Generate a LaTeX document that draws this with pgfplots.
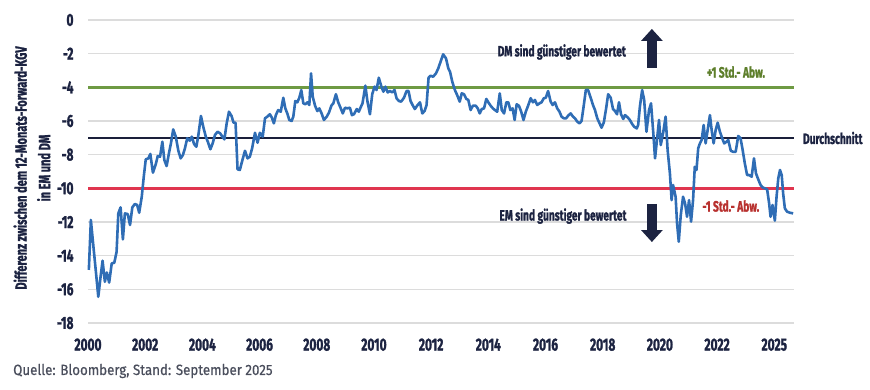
\documentclass[border=0pt]{standalone}
\usepackage{fontspec}
\setmainfont{Fira Sans}[FakeStretch=0.68, BoldFeatures={FakeBold=1.3}]
\newfontfamily\srcfont{Fira Sans}[FakeStretch=0.9, FakeBold=0.6]
\usepackage{pgfplots}
\usepackage{pgfplotstable}
\pgfplotsset{compat=1.18}
\usetikzlibrary{arrows.meta}
\definecolor{navy}{HTML}{1C2341}
\definecolor{lineblue}{HTML}{2F6DB5}
\definecolor{stdgreen}{HTML}{6E9A43}
\definecolor{stdred}{HTML}{E0354F}
\definecolor{txtgreen}{HTML}{5E7F2C}
\definecolor{txtred}{HTML}{B8312F}
\definecolor{meanline}{HTML}{1A1F3A}
\definecolor{gridgray}{HTML}{DCDCDC}
\definecolor{srcgray}{HTML}{4A4E5C}

% x = years since 2000 (axis positions), y = difference in forward P/E
\pgfplotstableread{
x y
0.03 -14.85
0.10 -11.88
0.19 -13.47
0.27 -14.85
0.36 -16.44
0.44 -15.25
0.51 -14.30
0.59 -15.55
0.66 -15.00
0.74 -15.60
0.83 -14.46
0.92 -14.42
1.00 -13.77
1.06 -11.49
1.14 -11.13
1.22 -13.03
1.29 -11.49
1.39 -11.53
1.47 -12.18
1.55 -11.13
1.64 -10.93
1.72 -10.99
1.79 -11.45
1.88 -10.50
1.95 -9.31
2.02 -8.28
2.11 -8.22
2.18 -7.96
2.27 -9.07
2.37 -8.56
2.44 -8.08
2.52 -8.12
2.60 -7.23
2.67 -8.32
2.75 -8.68
2.83 -7.92
2.90 -7.33
2.98 -6.50
3.07 -6.93
3.16 -7.77
3.24 -8.22
3.32 -8.02
3.39 -7.62
3.47 -7.03
3.56 -7.17
3.63 -6.93
3.71 -7.37
3.79 -7.53
3.86 -6.83
3.95 -5.70
4.03 -6.34
4.12 -6.93
4.19 -7.23
4.28 -7.68
4.36 -7.33
4.44 -6.83
4.53 -6.64
4.62 -6.73
4.70 -6.93
4.77 -7.09
4.85 -6.14
4.93 -5.45
5.02 -5.70
5.09 -6.10
5.16 -6.10
5.23 -8.87
5.31 -8.91
5.40 -8.32
5.49 -7.77
5.58 -8.22
5.66 -8.12
5.74 -7.62
5.84 -6.70
5.93 -7.29
6.01 -6.70
6.11 -6.93
6.19 -5.84
6.27 -5.74
6.36 -5.60
6.43 -5.80
6.50 -6.14
6.57 -5.65
6.65 -5.35
6.74 -5.45
6.83 -4.62
6.90 -5.25
6.97 -5.55
7.04 -5.94
7.12 -6.00
7.18 -5.74
7.25 -4.81
7.32 -4.89
7.39 -4.62
7.46 -4.16
7.53 -4.95
7.60 -5.01
7.67 -4.89
7.74 -5.05
7.80 -3.17
7.86 -4.56
7.94 -5.09
8.02 -5.41
8.09 -5.25
8.17 -5.55
8.25 -5.94
8.35 -5.74
8.43 -5.49
8.51 -5.09
8.58 -4.95
8.67 -4.41
8.75 -4.89
8.84 -5.25
8.91 -5.55
8.99 -5.21
9.07 -5.25
9.16 -5.21
9.23 -5.65
9.30 -5.60
9.40 -5.29
9.47 -5.45
9.53 -5.21
9.60 -4.95
9.70 -3.90
9.77 -4.81
9.86 -5.60
9.94 -4.41
10.02 -3.96
10.09 -4.16
10.17 -3.43
10.26 -3.96
10.33 -4.26
10.40 -3.96
10.48 -4.30
10.56 -4.22
10.64 -4.30
10.72 -4.16
10.79 -4.65
10.87 -4.81
10.95 -4.85
11.05 -4.62
11.14 -4.22
11.21 -4.22
11.28 -4.81
11.35 -5.05
11.43 -5.29
11.51 -5.09
11.61 -4.89
11.69 -5.55
11.77 -5.41
11.84 -5.05
11.91 -3.43
11.98 -3.31
12.07 -3.37
12.17 -3.17
12.25 -2.87
12.33 -2.48
12.42 -2.04
12.52 -2.28
12.60 -2.87
12.66 -3.07
12.74 -3.67
12.83 -4.16
12.91 -4.46
13.00 -4.85
13.07 -4.36
13.15 -4.41
13.23 -4.69
13.30 -4.75
13.38 -5.35
13.46 -5.09
13.56 -5.09
13.63 -5.25
13.70 -5.55
13.77 -5.29
13.85 -5.25
13.93 -4.69
14.00 -4.89
14.08 -5.09
14.16 -5.25
14.23 -5.35
14.31 -5.45
14.40 -4.36
14.47 -5.35
14.55 -5.55
14.63 -4.89
14.70 -4.89
14.77 -5.35
14.85 -5.25
14.92 -5.94
14.99 -5.01
15.07 -5.09
15.15 -5.45
15.23 -5.94
15.31 -5.45
15.40 -5.05
15.48 -4.65
15.56 -4.89
15.63 -4.75
15.71 -5.05
15.79 -4.95
15.86 -4.89
15.94 -4.65
16.01 -4.62
16.09 -4.22
16.18 -4.85
16.25 -5.05
16.33 -4.89
16.41 -5.25
16.49 -5.45
16.56 -5.74
16.64 -5.84
16.72 -5.84
16.81 -5.65
16.88 -5.55
16.96 -5.74
17.03 -5.84
17.11 -6.04
17.19 -6.14
17.26 -6.00
17.34 -5.05
17.41 -4.16
17.49 -4.16
17.58 -4.62
17.66 -5.05
17.73 -5.35
17.81 -5.84
17.89 -6.14
17.96 -6.40
18.04 -6.08
18.12 -5.25
18.19 -4.41
18.28 -4.62
18.36 -5.29
18.43 -5.41
18.50 -5.60
18.57 -4.89
18.64 -5.60
18.72 -5.88
18.78 -5.65
18.87 -5.78
18.95 -5.94
19.03 -6.18
19.10 -6.34
19.19 -6.44
19.24 -6.24
19.30 -5.15
19.38 -4.16
19.45 -4.75
19.53 -6.64
19.62 -5.35
19.69 -4.95
19.77 -6.73
19.83 -8.22
19.91 -6.93
19.97 -5.94
20.03 -7.43
20.12 -6.64
20.20 -5.74
20.27 -7.72
20.35 -9.11
20.41 -10.70
20.46 -9.80
20.55 -10.50
20.60 -12.08
20.66 -13.17
20.73 -11.59
20.81 -10.50
20.88 -10.89
20.95 -11.69
21.02 -10.70
21.09 -11.98
21.16 -10.70
21.22 -8.72
21.28 -8.91
21.34 -7.62
21.40 -7.33
21.46 -7.13
21.53 -6.24
21.60 -7.33
21.67 -6.54
21.75 -5.65
21.81 -6.54
21.88 -7.33
21.95 -6.54
22.02 -6.10
22.10 -6.64
22.18 -7.03
22.25 -7.33
22.33 -7.23
22.39 -7.13
22.48 -7.77
22.56 -7.83
22.65 -7.83
22.74 -6.89
22.82 -7.03
22.89 -7.68
22.97 -8.52
23.05 -9.21
23.12 -9.21
23.21 -9.31
23.29 -8.22
23.36 -9.11
23.44 -9.47
23.52 -9.80
23.59 -9.94
23.67 -10.00
23.75 -10.06
23.82 -10.89
23.87 -11.69
23.94 -10.99
24.02 -11.92
24.08 -10.50
24.14 -9.41
24.20 -8.91
24.26 -9.21
24.31 -10.30
24.37 -11.19
24.45 -11.39
24.55 -11.45
24.66 -11.49
}\spread

\begin{document}
\begin{tikzpicture}[x=1pt,y=1pt]
\useasboundingbox (0,0) rectangle (870,390);
\begin{axis}[
  at={(88pt,67pt)}, anchor=south west,
  scale only axis, width=706pt, height=303pt,
  xmin=0, xmax=24.69, ymin=-18, ymax=0,
  clip=false,
  axis line style={draw=none},
  tick style={draw=none},
  ymajorgrids, grid style={gridgray, line width=1.2pt},
  ytick={-18,-16,-14,-12,-10,-8,-6,-4,-2,0},
  yticklabels={-18,-16,-14,-12,-10,-8,-6,-4,-2,0},
  xtick={0,2,4,6,8,10,12,14,16,18,20,22,24},
  xticklabels={2000,2002,2004,2006,2008,2010,2012,2014,2016,2018,2020,2022,2025},
  yticklabel style={font=\bfseries\fontsize{17.5}{17.5}\selectfont, text=navy, anchor=east, xshift=-11pt},
  xticklabel style={font=\bfseries\fontsize{17.5}{17.5}\selectfont, text=navy, anchor=north, yshift=-12pt},
]
\addplot[stdgreen, line width=2.4pt] coordinates {(0,-4) (24.69,-4)};
\addplot[meanline, line width=2.4pt] coordinates {(0,-7) (24.69,-7)};
\addplot[stdred, line width=2.4pt] coordinates {(0,-10) (24.69,-10)};
\addplot[lineblue, line width=2.6pt, line join=round] table[x=x,y=y] {\spread};

\draw[-{Triangle[width=21pt,length=12pt]}, line width=10.5pt, navy]
  (axis cs:19.72,-2.85) -- (axis cs:19.72,-0.53);
\draw[-{Triangle[width=21pt,length=12pt]}, line width=10.5pt, navy]
  (axis cs:19.72,-10.93) -- (axis cs:19.72,-13.19);

\node[font=\bfseries\fontsize{15}{16}\selectfont, text=navy] at (axis cs:16.57,-1.90) {DM sind günstiger bewertet};
\node[font=\bfseries\fontsize{15}{16}\selectfont, text=navy] at (axis cs:16.61,-11.65) {EM sind günstiger bewertet};
\node[font=\bfseries\fontsize{15}{16}\selectfont, text=txtgreen] at (axis cs:22.66,-3.09) {+1 Std.- Abw.};
\node[font=\bfseries\fontsize{15}{16}\selectfont, text=txtred] at (axis cs:22.48,-11.05) {-1 Std.- Abw.};
\node[font=\bfseries\fontsize{15}{16}\selectfont, text=navy, anchor=west, inner sep=0pt] at (axis cs:25.0,-7.01) {Durchschnitt};
\end{axis}

\node[rotate=90, align=center, font=\bfseries\fontsize{16.2}{23.5}\selectfont, text=navy] at (32,222)
  {Differenz zwischen dem 12-Monats-Forward-KGV\\in EM und DM};
\node[anchor=west, inner sep=0pt, font=\srcfont\fontsize{14.8}{16}\selectfont, text=srcgray] at (13,19)
  {Quelle: Bloomberg, Stand: September 2025};
\end{tikzpicture}
\end{document}
